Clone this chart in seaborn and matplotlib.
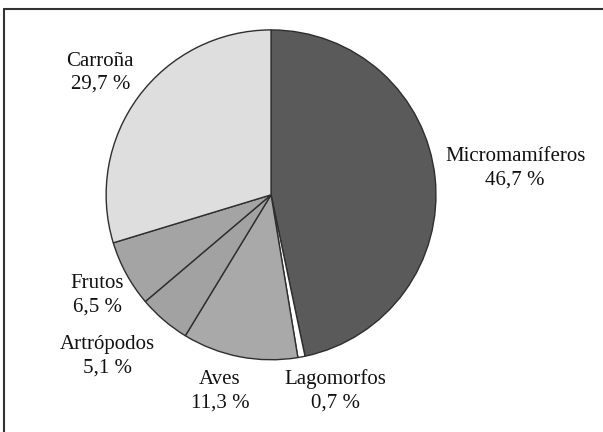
#!/usr/bin/env python3
# -*- coding:utf-8 -*-
"""
Diet composition pie chart (percent of items per food category).
"""

import matplotlib
matplotlib.use("Agg")
import matplotlib.pyplot as plt
import seaborn as sns

# Data, clockwise from 12 o'clock
categories = ['Micromamíferos', 'Lagomorfos', 'Aves', 'Artrópodos', 'Frutos', 'Carroña']
percent = [46.7, 0.7, 11.3, 5.1, 6.5, 29.7]
pct_labels = ['46,7 %', '0,7 %', '11,3 %', '5,1 %', '6,5 %', '29,7 %']

# Label anchor offsets (in pie radius units)
label_pos = {
    'Micromamíferos': (1.48, 0.16),
    'Lagomorfos': (0.39, -1.19),
    'Aves': (-0.31, -1.19),
    'Artrópodos': (-0.99, -0.98),
    'Frutos': (-1.055, -0.61),
    'Carroña': (-1.035, 0.74),
}


def plot_diet_pie(save_path: str = "out.png") -> None:
    sns.set_theme(style="white")
    plt.rcParams['font.family'] = ['Liberation Serif', 'DejaVu Serif']

    fig = plt.figure(figsize=(6.03, 4.32), dpi=100)
    ax = fig.add_axes([0.176, 0.167, 0.547, 0.764])

    greys = ['#5a5a5a', '#ffffff', '#a9a9a9', '#a2a2a2', '#a4a4a4', '#dedede']
    ax.pie(percent,
           colors=greys,
           startangle=90,
           counterclock=False,
           wedgeprops={'edgecolor': '#2e2e2e', 'linewidth': 1.0})
    ax.set_xlim(-1.0, 1.0)
    ax.set_ylim(-1.0, 1.0)
    ax.set_aspect('equal')

    for name, pct in zip(categories, pct_labels):
        x, y = label_pos[name]
        ax.text(x, y, f"{name}\n{pct}", ha='center', va='center',
                fontsize=15, color='#111111', linespacing=1.3,
                clip_on=False)

    # Frame: only the top and left edges are visible in the original crop
    fig.add_artist(plt.Line2D([0.007, 1.0], [0.979, 0.979],
                              transform=fig.transFigure, color='#333333', linewidth=1.5))
    fig.add_artist(plt.Line2D([0.007, 0.007], [0.0, 0.979],
                              transform=fig.transFigure, color='#333333', linewidth=1.5))

    plt.savefig(save_path, dpi=100)
    plt.close()


if __name__ == "__main__":
    plot_diet_pie()
